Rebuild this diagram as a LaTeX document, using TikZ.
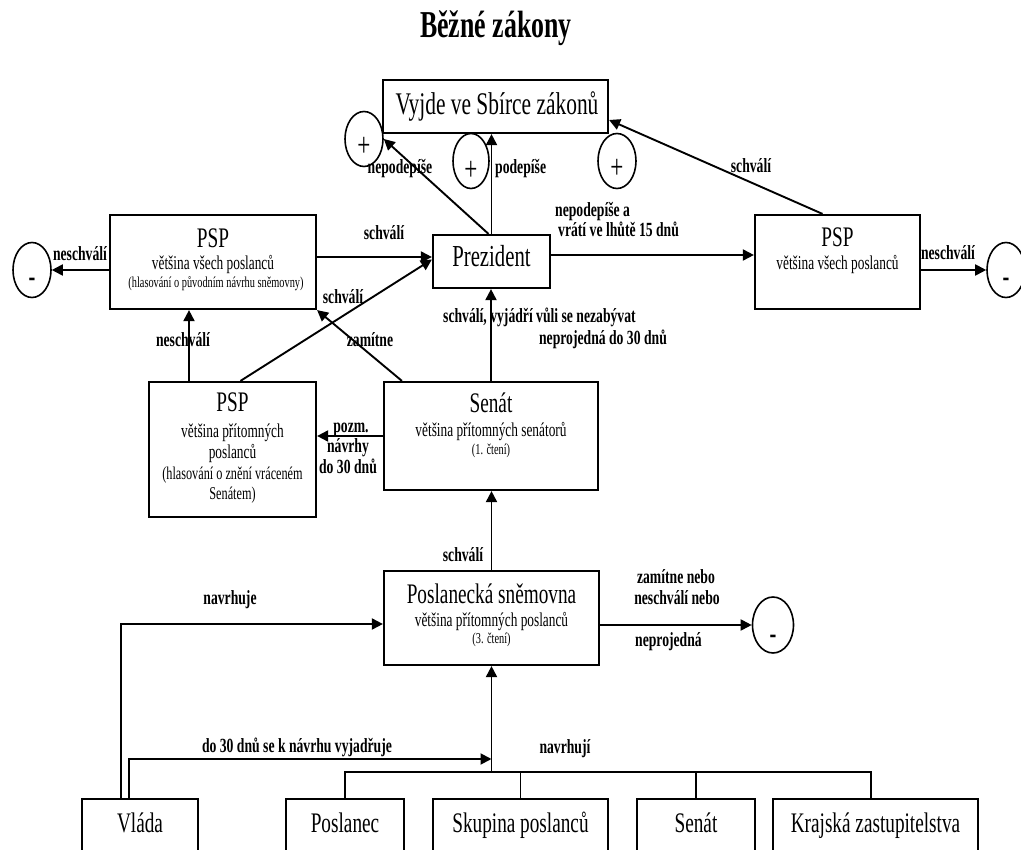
\documentclass[tikz,border=0pt]{standalone}
\usepackage{fontspec}
\setmainfont{Liberation Serif}[FakeStretch=0.68]
\usetikzlibrary{arrows.meta,shapes.geometric}
\begin{document}
\begin{tikzpicture}[x=1pt,y=-1pt,
  box/.style={draw,line width=2.2pt,rectangle,inner sep=0pt},
  sign/.style={draw,ellipse,line width=1.6pt,inner sep=0pt,minimum width=38pt,minimum height=55pt,font=\fontsize{34}{36}\selectfont},
  msign/.style={sign,font=\fontsize{30}{32}\selectfont\bfseries},
  arr/.style={line width=1.9pt,-{Triangle[length=11pt,width=11pt]}},
  busline/.style={line width=1.7pt},
  lab/.style={font=\fontsize{20.1}{22}\selectfont\bfseries,anchor=base,inner sep=0pt},
  big/.style={font=\fontsize{28.3}{30}\selectfont,anchor=base,inner sep=0pt},
  midt/.style={font=\fontsize{19.6}{21}\selectfont,anchor=base,inner sep=0pt},
  smallt/.style={font=\fontsize{15.2}{17}\selectfont,anchor=base,inner sep=0pt},
]
\useasboundingbox (0,0) rectangle (1021,850);
\fill[white] (0,0) rectangle (1021,850);
\clip (0,0) rectangle (1021,850);

% title
\node[font=\fontsize{38}{40}\selectfont\bfseries,anchor=base,inner sep=0pt] (title) at (496,38) {Běžné zákony};

% boxes
\node[box,minimum width=225pt,minimum height=53pt] (vyjde) at (495.5,106.5) {};
\node[box,minimum width=117pt,minimum height=53pt] (prez) at (491.5,261.5) {};
\node[box,minimum width=206pt,minimum height=94pt] (pspL) at (213,262) {};
\node[box,minimum width=165pt,minimum height=94pt] (pspR) at (837.5,262) {};
\node[box,minimum width=167pt,minimum height=135pt] (pspP) at (232.5,449.5) {};
\node[box,minimum width=214pt,minimum height=108pt] (senat) at (491,436) {};
\node[box,minimum width=215pt,minimum height=94pt] (ps) at (491.5,618) {};
\node[box,minimum width=116pt,minimum height=90pt] (vlada) at (140,844) {};
\node[box,minimum width=118pt,minimum height=90pt] (poslanec) at (345,844) {};
\node[box,minimum width=175pt,minimum height=90pt] (skupina) at (520.5,844) {};
\node[box,minimum width=118pt,minimum height=90pt] (senat2) at (696,844) {};
\node[box,minimum width=205pt,minimum height=90pt] (kraj) at (875.5,844) {};

% box texts
\node[big,font=\fontsize{31.5}{33}\selectfont] (vyjdeT) at (497,115) {Vyjde ve Sbírce zákonů};
\node[big,font=\fontsize{30.5}{32}\selectfont] (prezT) at (491.5,267) {Prezident};
\node[big] (pspLT1) at (213,248) {PSP};
\node[midt] (pspLT2) at (213,270) {většina všech poslanců};
\node[smallt] (pspLT3) at (216,288) {(hlasování o původním návrhu sněmovny)};
\node[big] (pspRT1) at (837.5,247) {PSP};
\node[midt] (pspRT2) at (837.5,270) {většina všech poslanců};
\node[big] (pspPT1) at (232.5,412) {PSP};
\node[midt] (pspPT2) at (232.5,438) {většina přítomných};
\node[midt] (pspPT3) at (232.5,458) {poslanců};
\node[midt,font=\fontsize{18}{20}\selectfont] (pspPT4) at (232.5,479) {(hlasování o znění vráceném};
\node[midt,font=\fontsize{18}{20}\selectfont] (pspPT5) at (232.5,499) {Senátem)};
\node[big] (senatT1) at (491,413) {Senát};
\node[midt] (senatT2) at (491,437) {většina přítomných senátorů};
\node[smallt] (senatT3) at (491,455) {(1. čtení)};
\node[big] (psT1) at (491.5,603) {Poslanecká sněmovna};
\node[midt] (psT2) at (491.5,626) {většina přítomných poslanců};
\node[smallt] (psT3) at (491.5,643) {(3. čtení)};
\node[big] (vladaT) at (140,832) {Vláda};
\node[big] (poslanecT) at (345,832) {Poslanec};
\node[big] (skupinaT) at (520.5,832) {Skupina poslanců};
\node[big] (senat2T) at (696,832) {Senát};
\node[big] (krajT) at (875.5,832) {Krajská zastupitelstva};

% signs
\node[sign] (plusL) at (364,139) {\raisebox{-17.5pt}[0pt][0pt]{+}};
\node[sign,minimum width=36pt] (plusM) at (471,161) {\raisebox{-20pt}[0pt][0pt]{+}};
\node[sign] (plusR) at (617,161) {\raisebox{-17.5pt}[0pt][0pt]{+}};
\node[msign] (minusL) at (32,270) {\raisebox{-17pt}[0pt][0pt]{-}};
\node[msign] (minusR) at (1006,270) {\raisebox{-17pt}[0pt][0pt]{-}};
\node[msign,minimum width=41pt,minimum height=56pt] (minusP) at (773,625) {\raisebox{-18pt}[0pt][0pt]{-}};

% helper coordinates
\coordinate (yA) at (0,255);
\coordinate (yB) at (0,257);
\coordinate (yP) at (0,624);
\coordinate (xN) at (189,0);
\coordinate (yb) at (0,772);
\coordinate (yv) at (0,759);

% connectors
\draw[arr] (prez.north) -- (prez.north |- vyjde.south);
\draw[arr] ([xshift=-3pt]prez.north) -- (plusL.east);
\draw[arr] ([xshift=-15pt]pspR.north) -- ([yshift=-13.5pt]vyjde.east);
\draw[arr] (prez.east |- yA) -- (pspR.west |- yA);
\draw[arr] (pspR.east |- minusR.west) -- (minusR.west);
\draw[arr] (pspL.west |- minusL.east) -- (minusL.east);
\draw[arr] (pspL.east |- yB) -- (prez.west |- yB);
\draw[arr] ([xshift=8pt]pspP.north) -- ([yshift=2pt]prez.west);
\draw[arr] ([xshift=19pt]senat.north west) -- (pspL.south east);
\draw[arr] (senat.north) -- (senat.north |- prez.south);
\draw[arr] (senat.west) -- (pspP.east |- senat.west);
\draw[arr] (xN |- pspP.north) -- (xN |- pspL.south);
\draw[arr] (ps.north) -- (ps.north |- senat.south);
\draw[arr] (ps.east |- minusP.west) -- (minusP.west);
\draw[arr] ([xshift=-19pt]vlada.north) |- (ps.west |- yP);
\draw[arr] ([xshift=-11pt]vlada.north) |- (ps.south |- yv);
\draw[busline] (poslanec.north) -- (poslanec.north |- yb) -- ([xshift=-4.5pt]kraj.north |- yb) -- ([xshift=-4.5pt]kraj.north);
\draw[busline] (skupina.north) -- (skupina.north |- yb);
\draw[busline] (senat2.north) -- (senat2.north |- yb);
\draw[arr] (ps.south |- yb) -- (ps.south);

% labels
\node[lab] (l1) at (400,174) {nepodepíše};
\node[lab,anchor=base west] (l2) at (495,174) {podepíše};
\node[lab] (l3) at (751,173) {schválí};
\node[lab,anchor=base west] (l4a) at (555,217) {nepodepíše a};
\node[lab,anchor=base west] (l4b) at (558,237) {vrátí ve lhůtě 15 dnů};
\node[lab] (l5) at (948,260) {neschválí};
\node[lab] (l6) at (80,261) {neschválí};
\node[lab] (l7) at (384,240) {schválí};
\node[lab] (l8) at (343,304) {schválí};
\node[lab] (l9) at (370,347) {zamítne};
\node[lab] (l10) at (183,347) {neschválí};
\node[lab,anchor=base west] (l11) at (443,323) {schválí, vyjádří vůli se nezabývat};
\node[lab] (l12) at (603,345) {neprojedná do 30 dnů};
\node[lab] (l13a) at (351,433) {pozm.};
\node[lab] (l13b) at (348,453) {návrhy};
\node[lab] (l13c) at (348,474) {do 30 dnů};
\node[lab] (l14) at (463,561) {schválí};
\node[lab] (l15a) at (676,583) {zamítne nebo};
\node[lab] (l15b) at (677,604) {neschválí nebo};
\node[lab,anchor=base west] (l15c) at (635,646) {neprojedná};
\node[lab] (l16) at (230,604) {navrhuje};
\node[lab] (l17) at (297,752) {do 30 dnů se k návrhu vyjadřuje};
\node[lab] (l18) at (565,753) {navrhují};
\end{tikzpicture}
\end{document}
